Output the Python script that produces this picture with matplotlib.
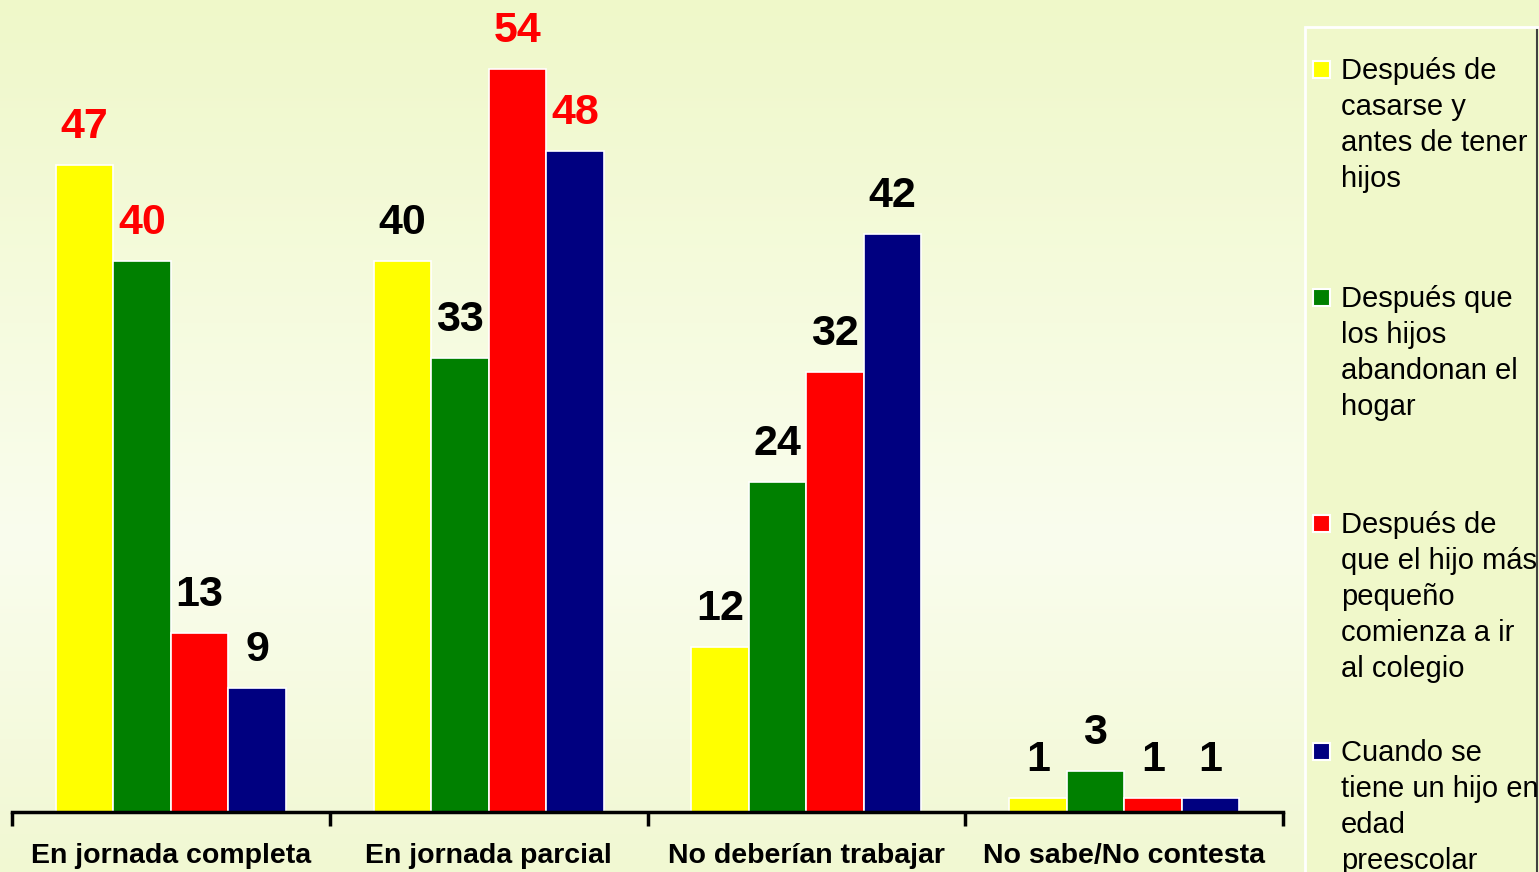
import numpy as np
import matplotlib.pyplot as plt
from matplotlib.patches import Rectangle
from matplotlib.colors import LinearSegmentedColormap

plt.rcParams['font.family'] = ['Liberation Sans', 'DejaVu Sans']

# datos
categorias = ["En jornada completa", "En jornada parcial",
              "No deberían trabajar", "No sabe/No contesta"]
series = ["Después de\ncasarse y\nantes de tener\nhijos",
          "Después que\nlos hijos\nabandonan el\nhogar",
          "Después de\nque el hijo más\npequeño\ncomienza a ir\nal colegio",
          "Cuando se\ntiene un hijo en\nedad\npreescolar"]
antes_hijos = [47, 40, 12, 1]
hijos_abandonan = [40, 33, 24, 3]
hijo_colegio = [13, 54, 32, 1]
hijo_preescolar = [9, 48, 42, 1]
valores = [antes_hijos, hijos_abandonan, hijo_colegio, hijo_preescolar]
colores = ["#FFFF00", "#008000", "#FF0000", "#000080"]
# etiquetas resaltadas en rojo (serie, categoria)
rojas = {(0, 0), (1, 0), (2, 1), (3, 1)}

W, H = 1539, 872
fig = plt.figure(figsize=(W / 100, H / 100), dpi=100)

# fondo degradado
bg = fig.add_axes([0, 0, 1, 1], zorder=-10)
cmap = LinearSegmentedColormap.from_list(
    "bg", [(0, "#EFF8C9"), (0.62, "#FAFDEE"), (1, "#F1F8D2")])
grad = np.linspace(0, 1, 256).reshape(-1, 1)
bg.imshow(grad, aspect="auto", cmap=cmap, extent=[0, 1, 0, 1], origin="upper")
bg.axis("off")

# caja de la leyenda
leg = fig.add_axes([0, 0, 1, 1], zorder=-5)
leg.set_xlim(0, W)
leg.set_ylim(H, 0)
leg.axis("off")
leg.add_patch(Rectangle((1305, 27), 240, 900, facecolor="#F0F8CA",
                        edgecolor="white", lw=2))
leg.plot([1537, 1537], [30, H], color="#404040", lw=1.5)

ax = fig.add_axes([12 / W, (H - 812) / H, (1283 - 12) / W, 812 / H])
ax.set_facecolor("none")
x = np.arange(len(categorias))
ancho = 0.181
for i, (vals, col) in enumerate(zip(valores, colores)):
    pos = x + (i - 1.5) * ancho
    ax.bar(pos, vals, width=ancho, color=col, edgecolor="white", lw=1.2)
    for j, (p, v) in enumerate(zip(pos, vals)):
        c = "#FF0000" if (i, j) in rojas else "black"
        ax.annotate(str(v), (p, v), xytext=(0, 13), textcoords="offset points",
                    ha="center", va="bottom", fontsize=31, fontweight="bold",
                    color=c)

ax.set_xlim(-0.5, 3.5)
ax.set_ylim(0, 59)
ax.set_yticks([])
for s in ["top", "right", "left"]:
    ax.spines[s].set_visible(False)
ax.spines["bottom"].set_linewidth(2.5)
ax.set_xticks(x)
ax.set_xticklabels(categorias, fontsize=20.5, fontweight="bold")
ax.tick_params(axis="x", which="major", length=0, pad=22)
ax.set_xticks(np.arange(-0.5, 4, 1), minor=True)
ax.tick_params(axis="x", which="minor", length=10, width=2.5, direction="out")

# entradas de la leyenda
ys = [70, 298, 524, 752]
for lab, col, y in zip(series, colores, ys):
    leg.add_patch(Rectangle((1313, y - 9), 17, 17, facecolor=col,
                            edgecolor="white", lw=1.5))
    leg.text(1341, y - 13, lab, fontsize=21, va="top", ha="left",
             linespacing=1.36)

fig.savefig("out.png", dpi=100)
